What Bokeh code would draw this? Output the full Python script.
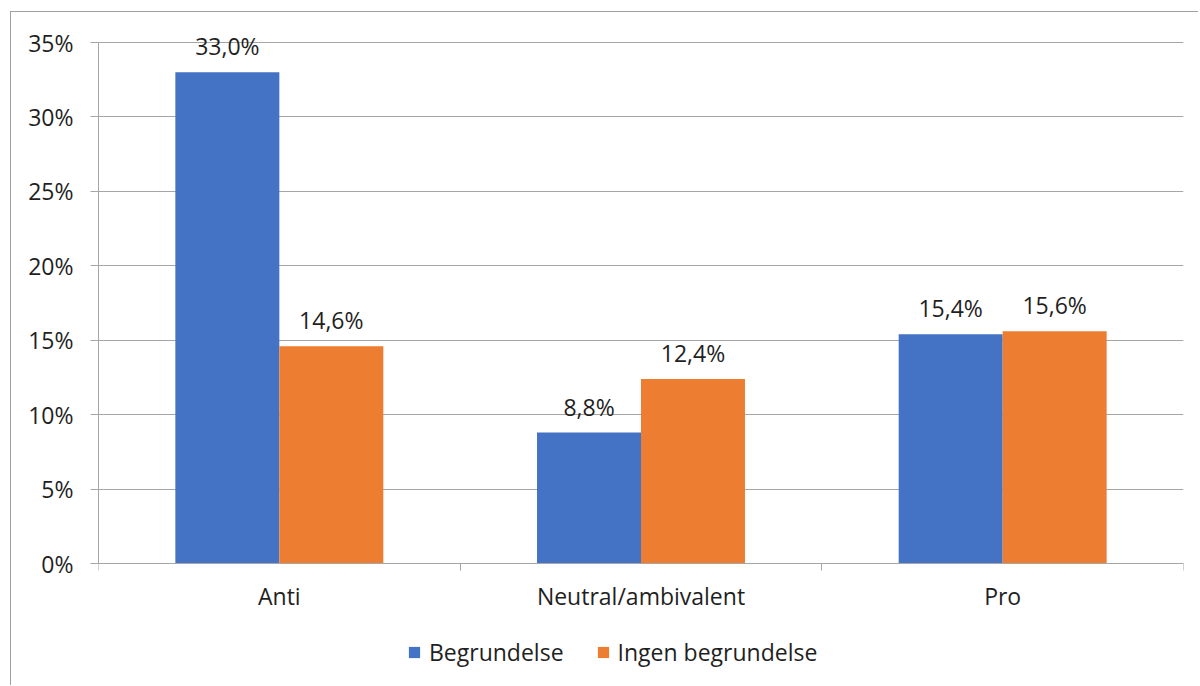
from bokeh.plotting import figure
from bokeh.models import (FixedTicker, NumeralTickFormatter, Legend, LegendItem,
                          ColumnDataSource, LabelSet)
from bokeh.core.properties import value
from bokeh.embed import file_html
from bokeh.resources import INLINE

categories = ["Anti", "Neutral/ambivalent", "Pro"]
series_names = ["Begrundelse", "Ingen begrundelse"]
begrundelse = [0.330, 0.088, 0.154]
ingen_begrundelse = [0.146, 0.124, 0.156]
y_ticks = [0.0, 0.05, 0.10, 0.15, 0.20, 0.25, 0.30, 0.35]

FONT = "Open Sans"
FS = "23px"
TXT = "#1f1f1f"
AX = "#a6a6a6"
colors = ["#4472c4", "#ed7d31"]

# layout (pixels): value axis 0..35% spans 521 px; frame extends 28 px above
# and 123 px below it so that labels and the legend are not clipped
PLOT_H = 521
PPU = PLOT_H / 0.35
y_lo = -123 / PPU
y_hi = 0.35 + 28 / PPU

p = figure(frame_width=1085, frame_height=PLOT_H + 28 + 123, output_backend="svg",
           toolbar_location=None, x_range=(0, 3), y_range=(y_lo, y_hi),
           min_border_left=87, min_border_top=2, min_border_right=16,
           min_border_bottom=0)
p.outline_line_color = None
p.background_fill_color = "white"
p.border_fill_color = None
p.margin = (12, 0, 0, 11)
p.styles = {"box-shadow": "-1px -1px 0 0 #a0a0a0"}

bar_w = 0.2875
centers = [i + 0.5 for i in range(len(categories))]
legend_items = []
for k, (vals, name) in enumerate(zip([begrundelse, ingen_begrundelse], series_names)):
    off = (-0.5 + k) * bar_w
    xs = [c + off for c in centers]
    labels = [f"{v*100:.1f}%".replace(".", ",") for v in vals]
    src = ColumnDataSource(dict(x=xs, top=vals, label=labels))
    r = p.vbar(x="x", top="top", width=bar_w, source=src, fill_color=colors[k],
               line_color=None)
    p.add_layout(LabelSet(x="x", y="top", text="label", source=src,
                          text_align="center", text_baseline="middle",
                          y_offset=26, text_font=value(FONT),
                          text_font_size=value(FS), text_color=TXT))
    legend_items.append(LegendItem(label=name, renderers=[r]))

xa = p.xaxis[0]
xa.fixed_location = 0
xa.ticker = FixedTicker(ticks=centers, minor_ticks=[0, 1, 2, 3])
xa.major_label_overrides = {c: cat for c, cat in zip(centers, categories)}
xa.major_tick_line_color = None
xa.major_tick_out = 0
xa.major_tick_in = 0
xa.minor_tick_line_color = AX
xa.minor_tick_out = 7
xa.minor_tick_in = 0
xa.axis_line_color = AX
xa.major_label_text_font = FONT
xa.major_label_text_font_size = FS
xa.major_label_text_color = TXT
xa.major_label_standoff = 9

ya = p.yaxis[0]
ya.bounds = (0, 0.35)
ya.ticker = FixedTicker(ticks=y_ticks)
ya.formatter = NumeralTickFormatter(format="0%")
ya.major_tick_line_color = AX
ya.major_tick_out = 8
ya.major_tick_in = 0
ya.minor_tick_line_color = None
ya.axis_line_color = AX
ya.major_label_text_font = FONT
ya.major_label_text_font_size = FS
ya.major_label_text_color = TXT
ya.major_label_standoff = 17

p.xgrid.grid_line_color = None
p.ygrid.grid_line_color = AX
p.ygrid.ticker = FixedTicker(ticks=y_ticks)

legend = Legend(items=legend_items, orientation="horizontal",
                location=(309, 18),
                glyph_width=14, glyph_height=14, label_text_font=FONT,
                label_text_font_size=FS, label_text_color=TXT,
                label_standoff=8, spacing=32, border_line_color=None,
                background_fill_alpha=0, margin=0, padding=4)
p.add_layout(legend)

open("out.html", "w").write(file_html(p, INLINE))
